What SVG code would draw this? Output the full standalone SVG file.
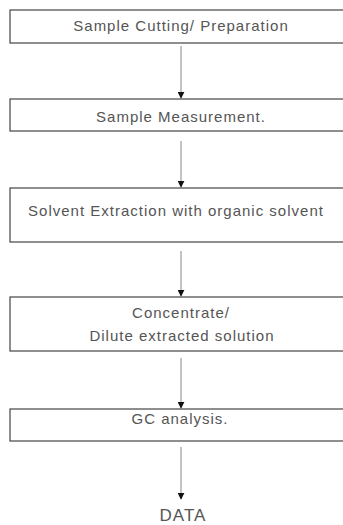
<svg xmlns="http://www.w3.org/2000/svg" width="343" height="525" viewBox="0 0 343 525">
<defs>
<style>
.box{fill:#fff;stroke:#444;stroke-width:1.2}
.t{font-family:"Liberation Sans",Arial,sans-serif;font-size:15px;fill:#555;text-anchor:middle;letter-spacing:1px}
.c{stroke:#888;stroke-width:1;fill:none}
</style>
<marker id="ah" viewBox="0 0 10 10" refX="9" refY="5" markerWidth="7" markerHeight="7" markerUnits="userSpaceOnUse" orient="auto">
<path d="M0,0 L10,5 L0,10 z" fill="#111"/>
</marker>
</defs>
<rect width="343" height="525" fill="#fff"/>
<g id="connectors">
<line class="c" x1="181" y1="46" x2="181" y2="98" marker-end="url(#ah)"/>
<line class="c" x1="181" y1="141" x2="181" y2="187" marker-end="url(#ah)"/>
<line class="c" x1="181" y1="251" x2="181" y2="296" marker-end="url(#ah)"/>
<line class="c" x1="181" y1="358" x2="181" y2="408" marker-end="url(#ah)"/>
<line class="c" x1="181" y1="447" x2="181" y2="499" marker-end="url(#ah)"/>
</g>
<g id="n1">
<rect class="box" x="10" y="10" width="342" height="33"/>
<text class="t" x="181" y="31">Sample Cutting/ Preparation</text>
</g>
<g id="n2">
<rect class="box" x="10" y="99" width="342" height="32"/>
<text class="t" x="181" y="122">Sample Measurement.</text>
</g>
<g id="n3">
<rect class="box" x="10" y="188" width="342" height="54"/>
<text class="t" x="176" y="216">Solvent Extraction with organic solvent</text>
</g>
<g id="n4">
<rect class="box" x="10" y="297" width="342" height="54"/>
<text class="t" x="181" y="318">Concentrate/</text>
<text class="t" x="182" y="341">Dilute extracted solution</text>
</g>
<g id="n5">
<rect class="box" x="10" y="409" width="342" height="32"/>
<text class="t" x="180" y="424">GC analysis.</text>
</g>
<g id="n6">
<text class="t" x="183" y="521" style="font-size:17px">DATA</text>
</g>
</svg>
